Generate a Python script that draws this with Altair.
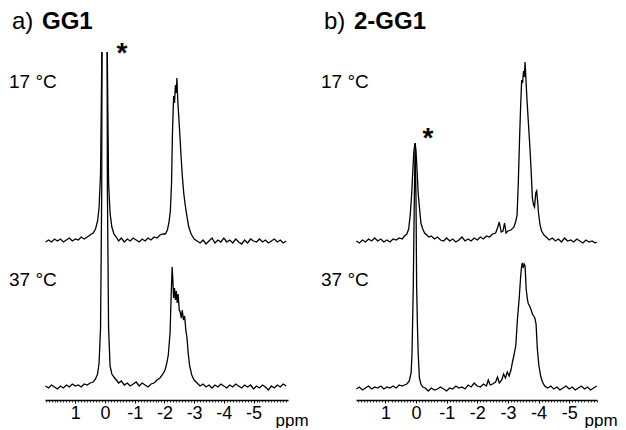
import altair as alt
import pandas as pd

# ---------------- data ----------------
A17_PPM = [2.0, 1.9, 1.8, 1.7, 1.6, 1.5, 1.4, 1.3, 1.2, 1.1, 1.0, 0.9, 0.8, 0.7, 0.6, 0.5, 0.4, 0.32, 0.25, 0.2,
           0.15, 0.11, 0.09, -0.06, -0.08, -0.12, -0.17, -0.23, -0.3, -0.38, -0.46, -0.55, -0.65, -0.75, -0.85,
           -0.95, -1.05, -1.15, -1.25, -1.35, -1.45, -1.55, -1.65, -1.75, -1.85, -1.95, -2.03, -2.1, -2.15, -2.2,
           -2.24, -2.27, -2.31, -2.34, -2.37, -2.4, -2.42, -2.45, -2.5, -2.55, -2.6, -2.65, -2.7, -2.75, -2.82,
           -2.9, -3.0, -3.1, -3.2, -3.3, -3.4, -3.5, -3.6, -3.7, -3.8, -3.9, -4.0, -4.1, -4.2, -4.3, -4.4, -4.5,
           -4.6, -4.7, -4.8, -4.9, -5.0, -5.1, -5.2, -5.3, -5.4, -5.5, -5.6, -5.7, -5.8, -5.9, -6.0, -6.1]
A17_INT = [1, 3, 1, 4, 2, 4, 1, 3, 5, 2, 4, 3, 6, 4, 6, 8, 10, 14, 22, 35,
           70, 180, 450, 450, 180, 60, 30, 16, 9, 6, 2, 5, 1, 4, 2,
           5, 3, 1, 4, 2, 5, 3, 6, 5, 8, 9, 9, 13, 20, 32,
           60, 110, 147, 140, 158, 150, 165, 142, 118, 92, 68, 50, 38, 28, 16,
           9, 4, 2, 0, 3, -1, 2, 5, 0, 3, 1, 5, 1, 3, 0, 4, 1,
           -1, 3, 0, 4, 2, 1, 4, 1, 3, 0, 2, 4, 1, 3, 0, 2]

A37_PPM = [2.0, 1.9, 1.8, 1.7, 1.6, 1.5, 1.4, 1.3, 1.2, 1.1, 1.0, 0.9, 0.8, 0.7, 0.6, 0.5, 0.4, 0.32, 0.25, 0.2,
           0.15, 0.11, 0.09, -0.06, -0.08, -0.12, -0.17, -0.23, -0.3, -0.38, -0.46, -0.55, -0.65, -0.75, -0.85,
           -0.95, -1.05, -1.15, -1.25, -1.35, -1.45, -1.55, -1.65, -1.75, -1.85, -1.95, -2.02, -2.08, -2.13,
           -2.19, -2.23, -2.26, -2.28, -2.31, -2.34, -2.37, -2.4, -2.43, -2.46, -2.5, -2.53, -2.57, -2.6, -2.64,
           -2.68, -2.72, -2.76, -2.8, -2.85, -2.92, -3.0, -3.1, -3.2, -3.3, -3.4, -3.5, -3.6, -3.7, -3.8, -3.9,
           -4.0, -4.1, -4.2, -4.3, -4.4, -4.5, -4.6, -4.7, -4.8, -4.9, -5.0, -5.1, -5.2, -5.3, -5.4, -5.5, -5.6,
           -5.7, -5.8, -5.9, -6.0, -6.1]
A37_INT = [2, 0, 3, 1, -1, 2, 0, 3, 1, 4, 2, 3, 1, 4, 3, 5, 6, 9, 14, 25,
           60, 200, 500, 500, 200, 60, 22, 14, 11, 8, 5, 7, 3, 5, 2,
           4, 6, 2, 5, 3, 1, 4, 5, 8, 10, 14, 18, 25, 33,
           55, 95, 121, 110, 90, 100, 88, 97, 85, 94, 78, 76, 70, 78, 68,
           72, 58, 50, 35, 22, 13, 8, 5, 2, 4, 1, 3, 0, 3, 1, 4,
           2, 0, 3, 1, 4, 2, 0, 3, 1, 3, -1, 2, 0, 3, 1, -2, 2,
           0, 3, 1, 4, 2]

B17_PPM = [1.95, 1.85, 1.75, 1.65, 1.55, 1.45, 1.35, 1.25, 1.15, 1.05, 0.95, 0.85, 0.75, 0.65, 0.55, 0.45, 0.38,
           0.3, 0.24, 0.19, 0.14, 0.1, 0.07, 0.03, 0.0, -0.03, -0.07, -0.11, -0.16, -0.22, -0.28, -0.35, -0.42,
           -0.5, -0.6, -0.7, -0.8, -0.9, -1.0, -1.1, -1.2, -1.3, -1.4, -1.5, -1.6, -1.7, -1.8, -1.9, -2.0, -2.1,
           -2.2, -2.3, -2.4, -2.5, -2.6, -2.66, -2.72, -2.78, -2.84, -2.89, -2.94, -3.0, -3.1, -3.2, -3.26, -3.3,
           -3.34, -3.38, -3.42, -3.45, -3.48, -3.51, -3.54, -3.56, -3.58, -3.62, -3.67, -3.72, -3.76, -3.8, -3.84,
           -3.87, -3.91, -3.94, -3.97, -4.0, -4.05, -4.1, -4.18, -4.25, -4.35, -4.45, -4.55, -4.65, -4.75, -4.85,
           -4.95, -5.05, -5.15, -5.25, -5.35, -5.45, -5.55, -5.65, -5.75, -5.85, -5.9]
B17_INT = [2, 0, 3, 1, 4, 2, 5, 2, 4, 1, 3, 1, 4, 3, 5, 4, 7,
           9, 14, 28, 50, 75, 92, 100, 92, 75, 50, 36, 20, 14, 10, 8, 6,
           7, 4, 6, 3, 2, 5, 2, 4, 1, 3, 6, 2, 4, 2, 5, 3, 6,
           4, 7, 6, 9, 10, 15, 21, 11, 12, 20, 10, 12, 13, 16, 22, 28,
           60, 103, 140, 163, 160, 172, 166, 181, 170, 145, 120, 95, 72, 45, 38,
           36, 50, 52, 42, 30, 18, 12, 8, 6, 3, 5, 2, 4, 1, 5,
           2, 3, 1, 4, 2, 0, 3, 1, 2, 0, 1]

B37_PPM = [1.95, 1.85, 1.75, 1.65, 1.55, 1.45, 1.35, 1.25, 1.15, 1.05, 0.95, 0.85, 0.75, 0.65, 0.55, 0.45, 0.38,
           0.3, 0.22, 0.16, 0.13, 0.09, 0.06, 0.03, 0.0, -0.02, -0.05, -0.07, -0.11, -0.16, -0.22, -0.3, -0.4,
           -0.5, -0.6, -0.7, -0.8, -0.9, -1.0, -1.1, -1.2, -1.3, -1.4, -1.5, -1.6, -1.7, -1.8, -1.9, -2.0, -2.1,
           -2.2, -2.3, -2.36, -2.42, -2.5, -2.6, -2.66, -2.72, -2.8, -2.86, -2.92, -2.98, -3.04, -3.1, -3.15,
           -3.2, -3.26, -3.31, -3.37, -3.42, -3.45, -3.47, -3.5, -3.53, -3.56, -3.6, -3.64, -3.67, -3.71, -3.76,
           -3.8, -3.84, -3.88, -3.92, -3.96, -4.01, -4.07, -4.13, -4.2, -4.3, -4.4, -4.5, -4.6, -4.7, -4.8, -4.9,
           -5.0, -5.1, -5.2, -5.3, -5.4, -5.5, -5.6, -5.7, -5.8, -5.9]
B37_INT = [1, 3, 0, 2, 4, 1, 3, 2, 4, 1, 3, 2, 4, 2, 5, 4, 5,
           6, 9, 17, 37, 103, 180, 247, 190, 103, 60, 37, 12, 6, 3, 2, -1,
           2, 0, 1, 3, 1, -1, 2, 1, 4, 2, 3, 1, 5, 3, 7, 4, 3,
           6, 4, 10, 5, 6, 8, 13, 7, 10, 16, 12, 18, 14, 20, 28,
           35, 45, 70, 92, 115, 124, 127, 122, 126, 124, 100, 90, 86, 84, 80,
           76, 74, 72, 66, 42, 25, 14, 8, 4, 2, 4, 1, 3, 0, 2, 4,
           1, 3, 0, 2, 4, 1, 3, 0, 2, 4]

TEMPS = ["17 °C", "37 °C"]
PANEL_LETTERS = ["a)", "b)"]
PANEL_NAMES = ["GG1", "2-GG1"]
MAJOR_TICKS = [1, 0, -1, -2, -3, -4, -5]

# ---------------- layout constants ----------------
FONT = "Liberation Sans"
H = 348                 # plot height in px
OFF = {"17 °C": 157, "37 °C": 12}   # vertical stacking offsets


def spectra_df(p17, i17, p37, i37, off37):
    rows = []
    for p, v in zip(p17, i17):
        rows.append({"ppm": p, "v": v + OFF["17 °C"], "s": "17 °C"})
    for p, v in zip(p37, i37):
        rows.append({"ppm": p, "v": v + off37, "s": "37 °C"})
    return pd.DataFrame(rows)


def panel(df, domain, width, letter, name, star_xy, label_x, minor_lo, minor_hi):
    xscale = alt.Scale(domain=domain, nice=False, zero=False)
    yscale = alt.Scale(domain=[0, H], nice=False, zero=False)
    major_axis = alt.Axis(orient="bottom", values=MAJOR_TICKS, tickSize=3, labelPadding=1, labelFontSize=18,
                          labelExpr="toString(datum.value)", labelFont=FONT, labelColor="black",
                          domainColor="black", domainWidth=1.3, tickColor="black", tickWidth=1,
                          grid=False, labelFlush=False, labelOverlap=False,
                          title="ppm", titleFont=FONT, titleFontSize=17, titleFontWeight="normal",
                          titleColor="black", titleX=width - 13, titleY=20, titleAlign="left",
                          titleBaseline="middle")
    minor_vals = [round(i * 0.1, 1) for i in range(minor_lo, minor_hi + 1)]
    minor_axis = alt.Axis(orient="bottom", values=minor_vals, tickSize=2, labels=False, domain=False,
                          tickColor="black", tickWidth=0.8, grid=False, title=None)

    lines = alt.Chart(df).mark_line(clip=True, color="black", strokeWidth=1.3).encode(
        x=alt.X("ppm:Q", scale=xscale, axis=major_axis),
        y=alt.Y("v:Q", scale=yscale, axis=None),
        detail="s:N",
        order="ppm:Q",
    )
    minor = alt.Chart(pd.DataFrame({"t": minor_vals})).mark_point(opacity=0).encode(
        x=alt.X("t:Q", scale=xscale, axis=minor_axis),
        y=alt.value(H - 5),
    )
    temps = alt.Chart(pd.DataFrame({"label": TEMPS, "yy": [30, 228]})).mark_text(
        align="left", baseline="middle", font=FONT, fontSize=19, color="black"
    ).encode(x=alt.value(label_x), y=alt.Y("yy:Q", scale=None), text="label:N")
    t1 = alt.Chart(pd.DataFrame({"label": [letter]})).mark_text(
        align="left", baseline="middle", font=FONT, fontSize=24, color="black"
    ).encode(x=alt.value(label_x + 3), y=alt.value(-30), text="label:N")
    t2 = alt.Chart(pd.DataFrame({"label": [name]})).mark_text(
        align="left", baseline="middle", font=FONT, fontSize=24, fontWeight="bold", color="black"
    ).encode(x=alt.value(label_x + 33), y=alt.value(-30), text="label:N")
    star = alt.Chart(pd.DataFrame({"label": ["*"]})).mark_text(
        align="center", baseline="alphabetic", font=FONT, fontSize=28, fontWeight="bold", color="black"
    ).encode(x=alt.value(star_xy[0]), y=alt.value(star_xy[1]), text="label:N")

    return alt.layer(lines, minor, temps, t1, t2, star).resolve_axis(x="independent").properties(
        width=width, height=H
    )


df_a = spectra_df(A17_PPM, A17_INT, A37_PPM, A37_INT, 12)
df_b = spectra_df(B17_PPM, B17_INT, B37_PPM, B37_INT, 10)

pa = panel(df_a, [2.02, -6.16], 243, PANEL_LETTERS[0], PANEL_NAMES[0], (77, 10), -36, -61, 20)
pb = panel(df_b, [1.96, -5.91], 241, PANEL_LETTERS[1], PANEL_NAMES[1], (72, 95), -35, -59, 19)

chart = alt.hconcat(pa, pb, spacing=12).properties(
    padding={"left": 1, "top": 2, "right": 0, "bottom": 0}
).configure(font=FONT).configure_view(stroke=None)

chart.save("out.html", embed_options={"renderer": "svg", "actions": False})
